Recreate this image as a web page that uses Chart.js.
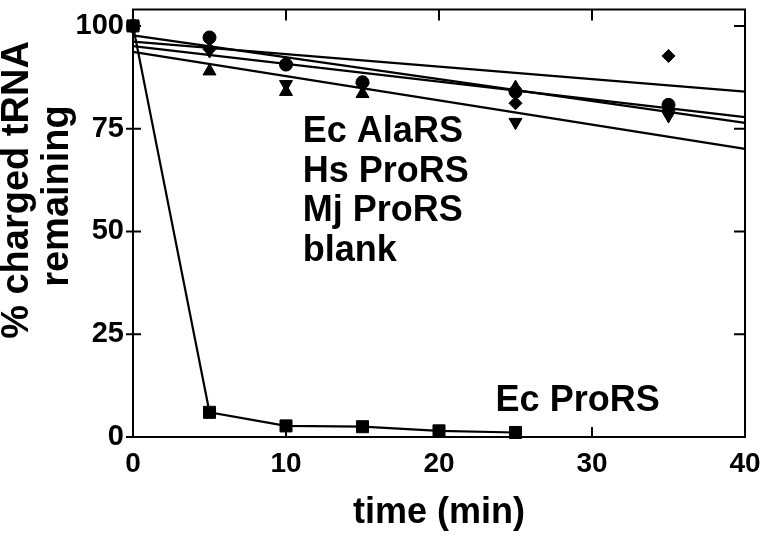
<!DOCTYPE html>
<html lang="en">
<head>
<meta charset="UTF-8" />
<title>% charged tRNA remaining</title>
<script src="https://cdn.jsdelivr.net/npm/chart.js"></script>
<style>
    html, body { margin: 0; padding: 0; background: #fff; }
</style>
</head>
<body>
<canvas id="chart" width="761" height="536"></canvas>

<script>
    // ---- data ----
    const timePoints = [0, 5, 10, 15, 25, 35];
    const circleVals = [100, 97.2, 90.6, 86.3, 84.0, 80.8];
    const triUpVals = [100, 89.0, 84.0, 83.5, 85.0, 80.3];
    const triDownVals = [100, 94.0, 85.8, 85.5, 76.6, 78.2];
    const diamondVals = [100, 94.3, 91.0, 86.0, 81.2, 92.7];

    const ecProTimes = [0, 5, 10, 15, 20, 25];
    const ecProVals = [100, 6.0, 2.7, 2.5, 1.5, 1.1];

    // linear fits, value at t = 0 and t = 40
    const fitTimes = [0, 40];
    const fitAt0 = [97.7, 96.2, 95.1, 93.7];
    const fitAt40 = [76.4, 84.0, 77.8, 70.1];

    const xTicks = [0, 10, 20, 30, 40];
    const yTicks = [0, 25, 50, 75, 100];

    const labelsUpper = ['Ec AlaRS', 'Hs ProRS', 'Mj ProRS', 'blank'];
    const labelLower = 'Ec ProRS';
    const yTitle = ['% charged tRNA', 'remaining'];
    const xTitle = 'time (min)';

    const FONT = '"Liberation Sans", Arial, Helvetica, sans-serif';

    const toPoints = (xs, ys) => xs.map((t, i) => ({ x: t, y: ys[i] }));

    function markers(vals, style, radius, rotation) {
        return {
            data: toPoints(timePoints, vals),
            pointStyle: style,
            pointRadius: radius,
            pointRotation: rotation || 0,
            backgroundColor: '#000',
            borderColor: '#000',
            borderWidth: 1,
            showLine: false,
            clip: false
        };
    }

    const fitSets = fitAt0.map((v, i) => ({
        data: toPoints(fitTimes, [v, fitAt40[i]]),
        showLine: true,
        borderColor: '#000',
        borderWidth: 2.2,
        pointRadius: 0,
        clip: false
    }));

    // the figure has no label overhang padding
    function noPad(s) {
        s.paddingLeft = 0; s.paddingRight = 0;
        s.paddingTop = 0; s.paddingBottom = 0;
    }

    // frame, inward ticks, free text
    const figureBits = {
        id: 'figureBits',
        beforeDatasetsDraw(chart) {
            const { ctx, chartArea: a, scales: { x, y } } = chart;
            ctx.save();
            ctx.strokeStyle = '#000';
            ctx.lineWidth = 2;
            ctx.strokeRect(a.left, a.top, a.right - a.left, a.bottom - a.top);
            ctx.beginPath();
            xTicks.forEach(v => {
                const px = x.getPixelForValue(v);
                ctx.moveTo(px, a.bottom); ctx.lineTo(px, a.bottom - 10);
                ctx.moveTo(px, a.top); ctx.lineTo(px, a.top + 11);
            });
            yTicks.forEach(v => {
                const py = y.getPixelForValue(v);
                ctx.moveTo(a.left - 7, py); ctx.lineTo(a.left + 8, py);
                ctx.moveTo(a.right, py); ctx.lineTo(a.right - 11, py);
            });
            ctx.stroke();
            ctx.restore();
        },
        afterDatasetsDraw(chart) {
            const { ctx, scales: { x, y } } = chart;
            ctx.save();
            ctx.fillStyle = '#000';
            ctx.font = 'bold 36px ' + FONT;
            ctx.textAlign = 'left';
            ctx.textBaseline = 'alphabetic';
            labelsUpper.forEach((s, i) => {
                ctx.fillText(s, x.getPixelForValue(11.1), y.getPixelForValue(71.8 - i * 9.65));
            });
            ctx.fillText(labelLower, x.getPixelForValue(23.7), y.getPixelForValue(6.3));

            // y axis title, two rotated lines
            ctx.font = 'bold 38px ' + FONT;
            ctx.textAlign = 'center';
            ctx.textBaseline = 'middle';
            [[18, 190], [58, 196]].forEach((p, i) => {
                ctx.save();
                ctx.translate(p[0], p[1]);
                ctx.rotate(-Math.PI / 2);
                ctx.fillText(yTitle[i], 0, 0);
                ctx.restore();
            });
            ctx.restore();
        }
    };

    new Chart(document.getElementById('chart'), {
        type: 'scatter',
        data: {
            datasets: [
                ...fitSets,
                {
                    data: toPoints(ecProTimes, ecProVals),
                    showLine: true,
                    borderColor: '#000',
                    borderWidth: 2.2,
                    pointStyle: 'rect',
                    pointRadius: 8.5,
                    backgroundColor: '#000',
                    pointBorderWidth: 1,
                    clip: false
                },
                markers(triUpVals, 'triangle', 7.5),
                markers(triDownVals, 'triangle', 7.5, 180),
                markers(diamondVals, 'rectRot', 6.5),
                markers(circleVals, 'circle', 6.5)
            ]
        },
        options: {
            responsive: false,
            animation: false,
            layout: { padding: { left: 0, right: 16, top: 4, bottom: 0 } },
            plugins: {
                legend: { display: false },
                tooltip: { enabled: false }
            },
            scales: {
                x: {
                    type: 'linear',
                    min: 0,
                    max: 40,
                    grid: { display: false },
                    border: { display: false },
                    afterBuildTicks: s => { s.ticks = xTicks.map(v => ({ value: v })); },
                    afterFit: s => { s.height = 99; noPad(s); },
                    ticks: {
                        color: '#000',
                        padding: 2,
                        font: { family: FONT, size: 28, weight: 'bold' }
                    },
                    title: {
                        display: true,
                        text: xTitle,
                        color: '#000',
                        padding: { top: 0, bottom: 1 },
                        font: { family: FONT, size: 36, weight: 'bold', lineHeight: 1.2 }
                    }
                },
                y: {
                    type: 'linear',
                    min: 0,
                    max: 104,
                    grid: { display: false },
                    border: { display: false },
                    afterBuildTicks: s => { s.ticks = yTicks.map(v => ({ value: v })); },
                    afterFit: s => { s.width = 133; noPad(s); },
                    ticks: {
                        color: '#000',
                        padding: 1,
                        font: { family: FONT, size: 29, weight: 'bold' }
                    }
                }
            }
        },
        plugins: [figureBits]
    });
</script>
</body>
</html>
